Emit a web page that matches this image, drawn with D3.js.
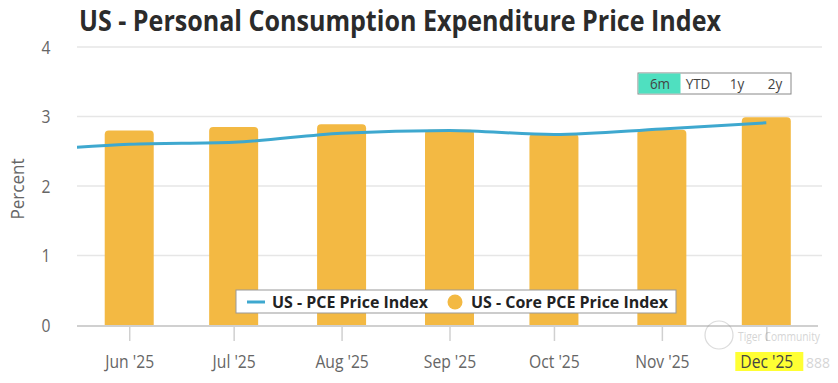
<!DOCTYPE html>
<html><head><meta charset="utf-8">
<script src="https://cdn.jsdelivr.net/npm/d3@7"></script>
<style>
html,body{margin:0;padding:0;background:#fff;}
svg{display:block;font-family:"Open Sans","Noto Sans",sans-serif;}
</style></head>
<body><svg id="c" width="838" height="383"></svg>
<script>
const title = "US - Personal Consumption Expenditure Price Index";
const lineDates = ["2025-05-01","2025-06-01","2025-07-01","2025-08-01","2025-09-01","2025-10-01","2025-11-01","2025-12-01"];
const pceValues = [2.50, 2.60, 2.63, 2.76, 2.80, 2.74, 2.82, 2.91];
const barDates = ["2025-06-01","2025-07-01","2025-08-01","2025-09-01","2025-10-01","2025-11-01","2025-12-01"];
const coreValues = [2.80, 2.85, 2.89, 2.81, 2.75, 2.81, 2.99];
const yTicks = [0, 1, 2, 3, 4];
const xTickLabels = ["Jun '25","Jul '25","Aug '25","Sep '25","Oct '25","Nov '25","Dec '25"];
const rangeButtons = ["6m","YTD","1y","2y"];
const seriesNames = ["US - PCE Price Index","US - Core PCE Price Index"];

const parse = d3.utcParse("%Y-%m-%d");
const svg = d3.select("#c");
const L = 77, R = 822, T = 47, B = 325;
const x = d3.scaleUtc().domain([parse("2025-05-17"), parse("2025-12-17")]).range([L, R]);
const y = d3.scaleLinear().domain([0, 4]).range([B, T]);
const lineColor = "#3ea8cf", barColor = "#f3b943";

// title
svg.append("text").attr("x", 79).attr("y", 31)
  .attr("font-size", 28).attr("font-weight", 700).attr("fill", "#2b2b2b")
  .attr("textLength", 642).attr("lengthAdjust", "spacingAndGlyphs")
  .text(title);

// grid
svg.append("g").selectAll("line").data(yTicks.filter(d => d > 0)).join("line")
  .attr("x1", L).attr("x2", R).attr("y1", d => y(d)).attr("y2", d => y(d))
  .attr("stroke", "#e6e6e6").attr("stroke-width", 1.5);

// y labels
svg.append("g").selectAll("text").data(yTicks).join("text")
  .attr("transform", d => `translate(46,${y(d) + 6.5}) scale(0.87,1)`).attr("text-anchor", "middle")
  .attr("font-size", 18).attr("fill", "#666").text(d => d);
svg.append("text").attr("transform", `translate(24,${(T + B) / 2 + 3}) rotate(-90) scale(0.9,1)`)
  .attr("text-anchor", "middle").attr("font-size", 19).attr("fill", "#666").text("Percent");

// clip
svg.append("clipPath").attr("id", "clip").append("rect")
  .attr("x", L).attr("y", 0).attr("width", R - L).attr("height", B + 1);

// bars
const bw = 49, rr = 4;
const bars = barDates.map((d, i) => ({ date: parse(d), v: coreValues[i] }));
svg.append("g").attr("clip-path", "url(#clip)").selectAll("path").data(bars).join("path")
  .attr("fill", barColor)
  .attr("d", d => {
    const x0 = x(d.date) - bw / 2, x1 = x0 + bw, yt = y(d.v), yb = y(0);
    return `M${x0},${yb}V${yt + rr}Q${x0},${yt} ${x0 + rr},${yt}H${x1 - rr}Q${x1},${yt} ${x1},${yt + rr}V${yb}Z`;
  });

// highlight behind Dec '25 label (annotation in reference)
const decX = x(parse("2025-12-01"));
svg.append("rect").attr("x", decX - 31).attr("y", 352).attr("width", 68).attr("height", 19).attr("fill", "#ffff33");

// baseline + ticks
svg.append("line").attr("x1", L).attr("x2", R - 4).attr("y1", B + 1).attr("y2", B + 1)
  .attr("stroke", "#d0d0d0").attr("stroke-width", 2);
const xAxis = d3.axisBottom(x).tickValues(barDates.map(parse)).tickSize(15)
  .tickFormat((d, i) => xTickLabels[i]);
const gx = svg.append("g").attr("transform", `translate(0,${B + 1})`).call(xAxis);
gx.select(".domain").remove();
gx.selectAll(".tick line").attr("stroke", "#d0d0d0").attr("stroke-width", 1.5);
gx.selectAll(".tick text").attr("font-size", 18).attr("fill", "#666").attr("font-family", "Open Sans")
  .attr("y", 42).attr("dy", 0).attr("transform", "scale(0.87,1)");
gx.selectAll(".tick text").filter((d, i) => i === 6).attr("fill", "#444");

// line
const pts = lineDates.map((d, i) => ({ date: parse(d), v: pceValues[i] }));
svg.append("path").datum(pts).attr("clip-path", "url(#clip)")
  .attr("fill", "none").attr("stroke", lineColor).attr("stroke-width", 3)
  .attr("d", d3.line().x(d => x(d.date)).y(d => y(d.v)).curve(d3.curveMonotoneX));

// range selector
const rs = svg.append("g");
const bx = [638, 680, 717, 757, 791];
rs.append("rect").attr("x", bx[0]).attr("y", 73).attr("width", bx[4] - bx[0]).attr("height", 21)
  .attr("fill", "#fff").attr("stroke", "#888").attr("stroke-width", 1);
rs.append("rect").attr("x", bx[0] + 0.5).attr("y", 73.5).attr("width", bx[1] - bx[0]).attr("height", 20).attr("fill", "#4fe0c0");
rs.selectAll("text").data(rangeButtons).join("text")
  .attr("transform", (d, i) => `translate(${[660, 698, 737, 775][i]},89) scale(0.9,1)`).attr("text-anchor", "middle")
  .attr("font-size", 15).attr("fill", "#444").text(d => d);

// watermark
const wm = svg.append("g").attr("opacity", 0.35);
wm.append("circle").attr("cx", 719).attr("cy", 335).attr("r", 14).attr("fill", "none").attr("stroke", "#999").attr("stroke-width", 1.2);
wm.append("text").attr("x", 738).attr("y", 341).attr("font-size", 12).attr("fill", "#888")
  .attr("textLength", 82).attr("lengthAdjust", "spacingAndGlyphs").text("Tiger Community");
wm.append("text").attr("x", 806).attr("y", 368).attr("font-size", 14).attr("fill", "#888").text("888");

// legend
const lg = svg.append("g");
lg.append("rect").attr("x", 236).attr("y", 290).attr("width", 440).attr("height", 23)
  .attr("fill", "#fff").attr("stroke", "#999").attr("stroke-width", 1);
lg.append("line").attr("x1", 247).attr("x2", 265).attr("y1", 302).attr("y2", 302)
  .attr("stroke", lineColor).attr("stroke-width", 3);
lg.append("text").attr("x", 272).attr("y", 308).attr("font-size", 16).attr("font-weight", 700).attr("fill", "#222")
  .attr("textLength", 156).attr("lengthAdjust", "spacingAndGlyphs").text(seriesNames[0]);
lg.append("circle").attr("cx", 455).attr("cy", 302).attr("r", 7.5).attr("fill", barColor);
lg.append("text").attr("x", 471).attr("y", 308).attr("font-size", 16).attr("font-weight", 700).attr("fill", "#222")
  .attr("textLength", 197).attr("lengthAdjust", "spacingAndGlyphs").text(seriesNames[1]);
</script></body></html>
